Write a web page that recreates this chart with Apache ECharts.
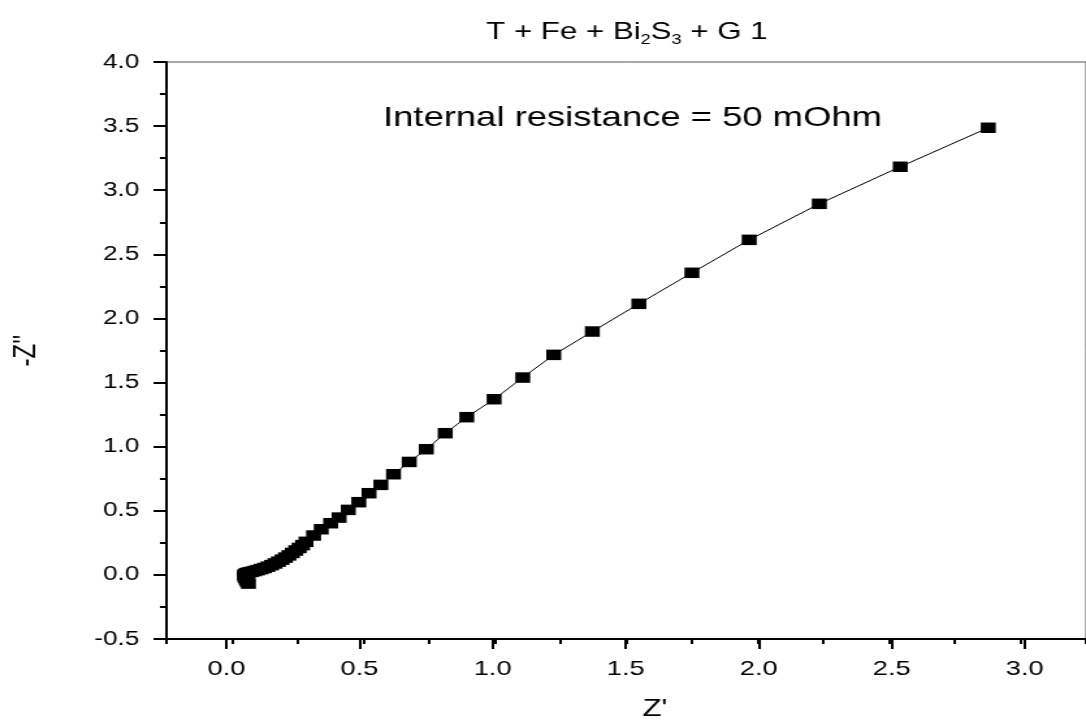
<!DOCTYPE html>
<html>
<head>
<meta charset="utf-8">
<title>Nyquist</title>
<script src="https://cdn.jsdelivr.net/npm/echarts@6.0.0/dist/echarts.min.js"></script>
<style>
html, body { margin: 0; padding: 0; background: #fff; overflow: hidden; }
/* the reference picture is stretched sideways, so the chart is drawn narrow and widened */
#main { width: 835px; height: 727px; transform: scaleX(1.3006); transform-origin: 0 0; }
</style>
</head>
<body>
<div id="main"></div>
<script>
// Z' (real part) and -Z'' (imaginary part), high frequency first
var zReal = [0.062, 0.058, 0.054, 0.050, 0.048, 0.047, 0.050, 0.056, 0.064, 0.074,
             0.085, 0.097, 0.110, 0.123, 0.136, 0.150, 0.163, 0.176, 0.190, 0.203,
             0.216, 0.229, 0.242, 0.255, 0.268, 0.281, 0.310, 0.339, 0.375, 0.407,
             0.442, 0.482, 0.521, 0.566, 0.614, 0.674, 0.739, 0.811, 0.893, 0.997,
             1.106, 1.224, 1.371, 1.548, 1.750, 1.968, 2.235, 2.543, 2.878];
var zImag = [-0.068, -0.055, -0.040, -0.025, -0.012, 0.000, 0.008, 0.014, 0.019, 0.024,
             0.030, 0.037, 0.045, 0.054, 0.064, 0.076, 0.089, 0.103, 0.119, 0.135,
             0.152, 0.171, 0.190, 0.210, 0.232, 0.258, 0.307, 0.356, 0.403, 0.447,
             0.507, 0.567, 0.637, 0.702, 0.785, 0.881, 0.980, 1.105, 1.230, 1.370,
             1.539, 1.716, 1.898, 2.114, 2.356, 2.613, 2.894, 3.183, 3.487];

var titleText = '{n|T + Fe + Bi}{s|2}{n|S}{s|3}{n| + G 1}';
var noteText = 'Internal resistance = 50 mOhm';
var xName = "Z'";
var yName = "-Z''";

var font = '"Liberation Sans", Arial, sans-serif';

var points = [];
for (var i = 0; i < zReal.length; i++) {
    points.push([zReal[i], zImag[i]]);
}

var chart = echarts.init(document.getElementById('main'));

var option = {
    animation: false,
    backgroundColor: '#fff',
    grid: [{
        // full frame, minor ticks on x
        left: 123,
        top: 62,
        width: 716,
        height: 577,
        show: true,
        borderColor: '#555',
        borderWidth: 1
    }, {
        // 0 .. 3 part of the same frame, for the labelled ticks
        left: 174.15,
        top: 62,
        width: 613.8,
        height: 577,
        show: false
    }],
    xAxis: [{
        type: 'value',
        gridIndex: 0,
        min: -0.25,
        max: 3.25,
        interval: 0.25,
        axisLine: { onZero: false, lineStyle: { color: '#000', width: 2 } },
        axisTick: { length: 5, lineStyle: { color: '#000', width: 2 } },
        axisLabel: { show: false },
        splitLine: { show: false }
    }, {
        type: 'value',
        gridIndex: 1,
        min: 0,
        max: 3,
        interval: 0.5,
        name: xName,
        nameLocation: 'middle',
        nameGap: 58,
        nameTextStyle: { color: '#000', fontSize: 24, fontFamily: font, padding: [0, 0, 0, 45] },
        axisLine: { show: false, onZero: false },
        axisTick: { length: 10, lineStyle: { color: '#000', width: 2 } },
        axisLabel: {
            color: '#000',
            fontSize: 21,
            fontFamily: font,
            margin: 20,
            formatter: function (v) { return v.toFixed(1); }
        },
        splitLine: { show: false }
    }],
    yAxis: [{
        type: 'value',
        gridIndex: 0,
        min: -0.5,
        max: 4,
        interval: 0.5,
        name: yName,
        nameLocation: 'middle',
        nameGap: 96,
        nameTextStyle: { color: '#000', fontSize: 24, fontFamily: font },
        axisLine: { show: true, onZero: false, lineStyle: { color: '#000', width: 2 } },
        axisTick: { show: true, length: 10, lineStyle: { color: '#000', width: 2 } },
        minorTick: { show: true, splitNumber: 2, length: 5, lineStyle: { color: '#000', width: 2 } },
        axisLabel: {
            color: '#000',
            fontSize: 20,
            fontFamily: font,
            margin: 21,
            formatter: function (v) { return v.toFixed(1); }
        },
        splitLine: { show: false }
    }, {
        type: 'value',
        gridIndex: 1,
        min: -0.5,
        max: 4,
        axisLine: { onZero: false },
        show: false
    }],
    graphic: [{
        type: 'text',
        x: 482,
        y: 17,
        z: 10,
        style: {
            text: titleText,
            align: 'center',
            verticalAlign: 'top',
            fill: '#000',
            fontFamily: font,
            rich: {
                n: { fontSize: 24, lineHeight: 30, fontFamily: font, fill: '#000' },
                s: { fontSize: 14, lineHeight: 18, verticalAlign: 'bottom', fontFamily: font, fill: '#000' }
            }
        }
    }, {
        type: 'text',
        x: 294.5,
        y: 104,
        z: 10,
        style: {
            text: noteText,
            align: 'left',
            verticalAlign: 'top',
            fill: '#000',
            fontSize: 28,
            fontFamily: font
        }
    }],
    series: [{
        type: 'line',
        xAxisIndex: 0,
        yAxisIndex: 0,
        data: points,
        symbol: 'rect',
        symbolSize: [11.5, 10.5],
        showAllSymbol: true,
        lineStyle: { color: '#000', width: 1 },
        itemStyle: { color: '#000' },
        clip: false
    }]
};

chart.setOption(option);
</script>
</body>
</html>
